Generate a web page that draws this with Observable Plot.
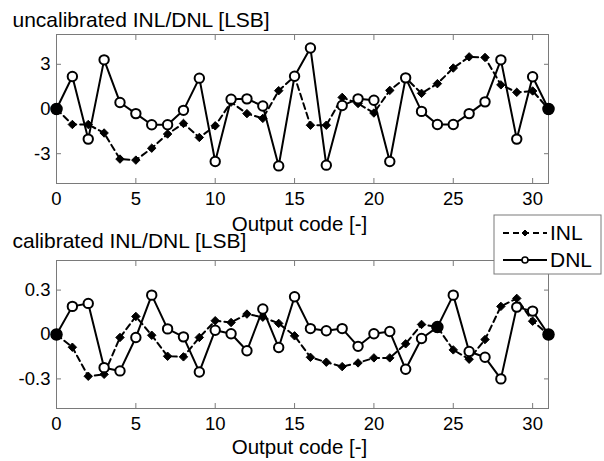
<!DOCTYPE html>
<html>
<head>
<meta charset="utf-8">
<script src="https://cdn.jsdelivr.net/npm/d3@7"></script>
<script src="https://cdn.jsdelivr.net/npm/@observablehq/plot@0.6"></script>
<style>
  html, body { margin: 0; padding: 0; background: white; }
  #wrap { position: relative; width: 604px; height: 461px; font-family: "Liberation Sans", Arial, sans-serif; }
  #wrap svg { position: absolute; left: 0; }
</style>
</head>
<body>
<div id="wrap"></div>
<script>
// Output codes
const codes = [0,1,2,3,4,5,6,7,8,9,10,11,12,13,14,15,16,17,18,19,20,21,22,23,24,25,26,27,28,29,30,31];
// Uncalibrated (top panel) [LSB]
const inlUncal = [0,-1.04,-1.04,-1.61,-3.36,-3.43,-2.63,-1.68,-0.97,-1.91,-1.13,0.46,-0.31,-0.63,1.23,2.2,-1.09,-1.09,0.78,0.37,-0.27,1.25,2.09,1.05,1.7,2.75,3.5,3.46,1.62,1.12,1.21,0];
const dnlUncal = [0,2.18,-2.02,3.3,0.44,-0.31,-1.06,-1.06,-0.09,2.07,-3.52,0.66,0.68,0.2,-3.82,2.2,4.09,-3.77,0.23,0.68,0.59,-3.52,2.09,-0.16,-1.04,-1.04,-0.31,0.48,3.3,-2.02,2.16,0];
// Calibrated (bottom panel) [LSB]
const inlCal = [0,-0.086,-0.282,-0.269,-0.02,0.122,-0.005,-0.147,-0.151,-0.02,0.093,0.081,0.138,0.117,0.075,-0.009,-0.154,-0.187,-0.217,-0.192,-0.158,-0.158,-0.063,0.068,0.05,-0.104,-0.167,-0.034,0.19,0.244,0.09,0];
const dnlCal = [0,0.19,0.21,-0.224,-0.246,-0.02,0.266,0.038,-0.016,-0.253,0.029,0.005,-0.11,0.172,-0.088,0.255,0.04,0.025,0.04,-0.08,0.005,0.02,-0.235,-0.027,0.05,0.266,-0.115,-0.154,-0.30,0.185,0.158,0];
// Filled marker codes
const filledUncal = [0, 31];
const filledCal = [0, 24, 31];
// Tick values
const xTicks = [0,5,10,15,20,25,30];
const yTicksUncal = [-3,0,3];
const yTicksCal = [-0.3,0,0.3];
// Text
const titleUncal = "uncalibrated INL/DNL [LSB]";
const titleCal = "calibrated INL/DNL [LSB]";
const xLabel = "Output code [-]";
const seriesNames = ["INL", "DNL"];

const FONT = "Liberation Sans, Arial, sans-serif";
const FRAME = "#7a7a7a";

function panel({inl, dnl, filled, yDomain, yTicks, title, height, marginTop, marginBottom, titleDy, labelDy}) {
  const rowsI = codes.map((c, i) => ({x: c, y: inl[i]}));
  const rowsD = codes.map((c, i) => ({x: c, y: dnl[i]}));
  const rowsF = filled.map(c => ({x: c, y: dnl[codes.indexOf(c)]}));
  const fmt = d => String(d);
  return Plot.plot({
    width: 604,
    height,
    marginLeft: 56,
    marginRight: 56,
    marginTop,
    marginBottom,
    style: {background: "transparent", fontFamily: FONT, fontSize: "18px", overflow: "visible"},
    x: {domain: [0, 31]},
    y: {domain: yDomain},
    marks: [
      Plot.frame({stroke: FRAME, strokeWidth: 1}),
      // inward ticks
      Plot.axisX({anchor: "bottom", ticks: xTicks, tickSize: -5, tickFormat: () => "", label: null, stroke: FRAME}),
      Plot.axisX({anchor: "top", ticks: xTicks, tickSize: -5, tickFormat: () => "", label: null, stroke: FRAME}),
      Plot.axisY({anchor: "left", ticks: yTicks, tickSize: -5, tickFormat: () => "", label: null, stroke: FRAME}),
      Plot.axisY({anchor: "right", ticks: yTicks, tickSize: -5, tickFormat: () => "", label: null, stroke: FRAME}),
      // tick labels
      Plot.axisX({anchor: "bottom", ticks: xTicks, tickSize: 0, tickPadding: 8, tickFormat: fmt, label: null, fontSize: 18.5, fill: "black"}),
      Plot.axisY({anchor: "left", ticks: yTicks, tickSize: 0, tickPadding: 6, tickFormat: fmt, label: null, fontSize: 18.5, fill: "black"}),
      // series
      Plot.line(rowsI, {x: "x", y: "y", stroke: "black", strokeWidth: 2, strokeDasharray: "6,4"}),
      Plot.line(rowsD, {x: "x", y: "y", stroke: "black", strokeWidth: 2}),
      Plot.dot(rowsI, {x: "x", y: "y", symbol: "diamond2", r: 3.8, fill: "black", stroke: "black", strokeWidth: 1}),
      Plot.dot(rowsD, {x: "x", y: "y", r: 4.7, fill: "white", stroke: "black", strokeWidth: 2}),
      Plot.dot(rowsF, {x: "x", y: "y", r: 5.5, fill: "black", stroke: "black"}),
      // titles / labels
      Plot.text([title], {frameAnchor: "top-left", dx: -44, dy: titleDy, textAnchor: "start", lineAnchor: "bottom", fontSize: 21, fill: "black"}),
      Plot.text([xLabel], {frameAnchor: "bottom", dx: -3, dy: labelDy, lineAnchor: "bottom", fontSize: 20.5, fill: "black"})
    ]
  });
}

const wrap = document.getElementById("wrap");

const topPanel = panel({inl: inlUncal, dnl: dnlUncal, filled: filledUncal, yDomain: [-5, 5], yTicks: yTicksUncal,
  title: titleUncal, height: 240, marginTop: 34, marginBottom: 57, titleDy: -8, labelDy: 47});
topPanel.style.top = "0px";
wrap.appendChild(topPanel);

const bottomPanel = panel({inl: inlCal, dnl: dnlCal, filled: filledCal, yDomain: [-0.5, 0.5], yTicks: yTicksCal,
  title: titleCal, height: 241, marginTop: 40, marginBottom: 53, titleDy: -13, labelDy: 45});
bottomPanel.style.top = "220px";
wrap.appendChild(bottomPanel);

// Legend
const leg = d3.create("svg")
  .attr("width", 110).attr("height", 62)
  .style("position", "absolute").style("left", "493px").style("top", "214px")
  .style("font-family", FONT);
leg.append("rect").attr("x", 1).attr("y", 1).attr("width", 107).attr("height", 59)
  .attr("fill", "white").attr("stroke", FRAME);
const entries = leg.selectAll("g").data(seriesNames).join("g")
  .attr("transform", (d, i) => `translate(0,${i === 0 ? 19 : 46})`);
entries.append("line").attr("x1", 10).attr("x2", 54).attr("y1", 0).attr("y2", 0)
  .attr("stroke", "black").attr("stroke-width", 2)
  .attr("stroke-dasharray", (d, i) => i === 0 ? "6,4" : null);
entries.filter((d, i) => i === 0).append("path").attr("d", "M32,-3L35,0L32,3L29,0Z").attr("fill", "black").attr("stroke", "black");
entries.filter((d, i) => i === 1).append("circle").attr("cx", 32).attr("cy", 0).attr("r", 3).attr("fill", "white").attr("stroke", "black").attr("stroke-width", 1.6);
entries.append("text").attr("x", 57).attr("y", 7).attr("font-size", 21).attr("fill", "black").text(d => d);
wrap.appendChild(leg.node());
</script>
</body>
</html>
